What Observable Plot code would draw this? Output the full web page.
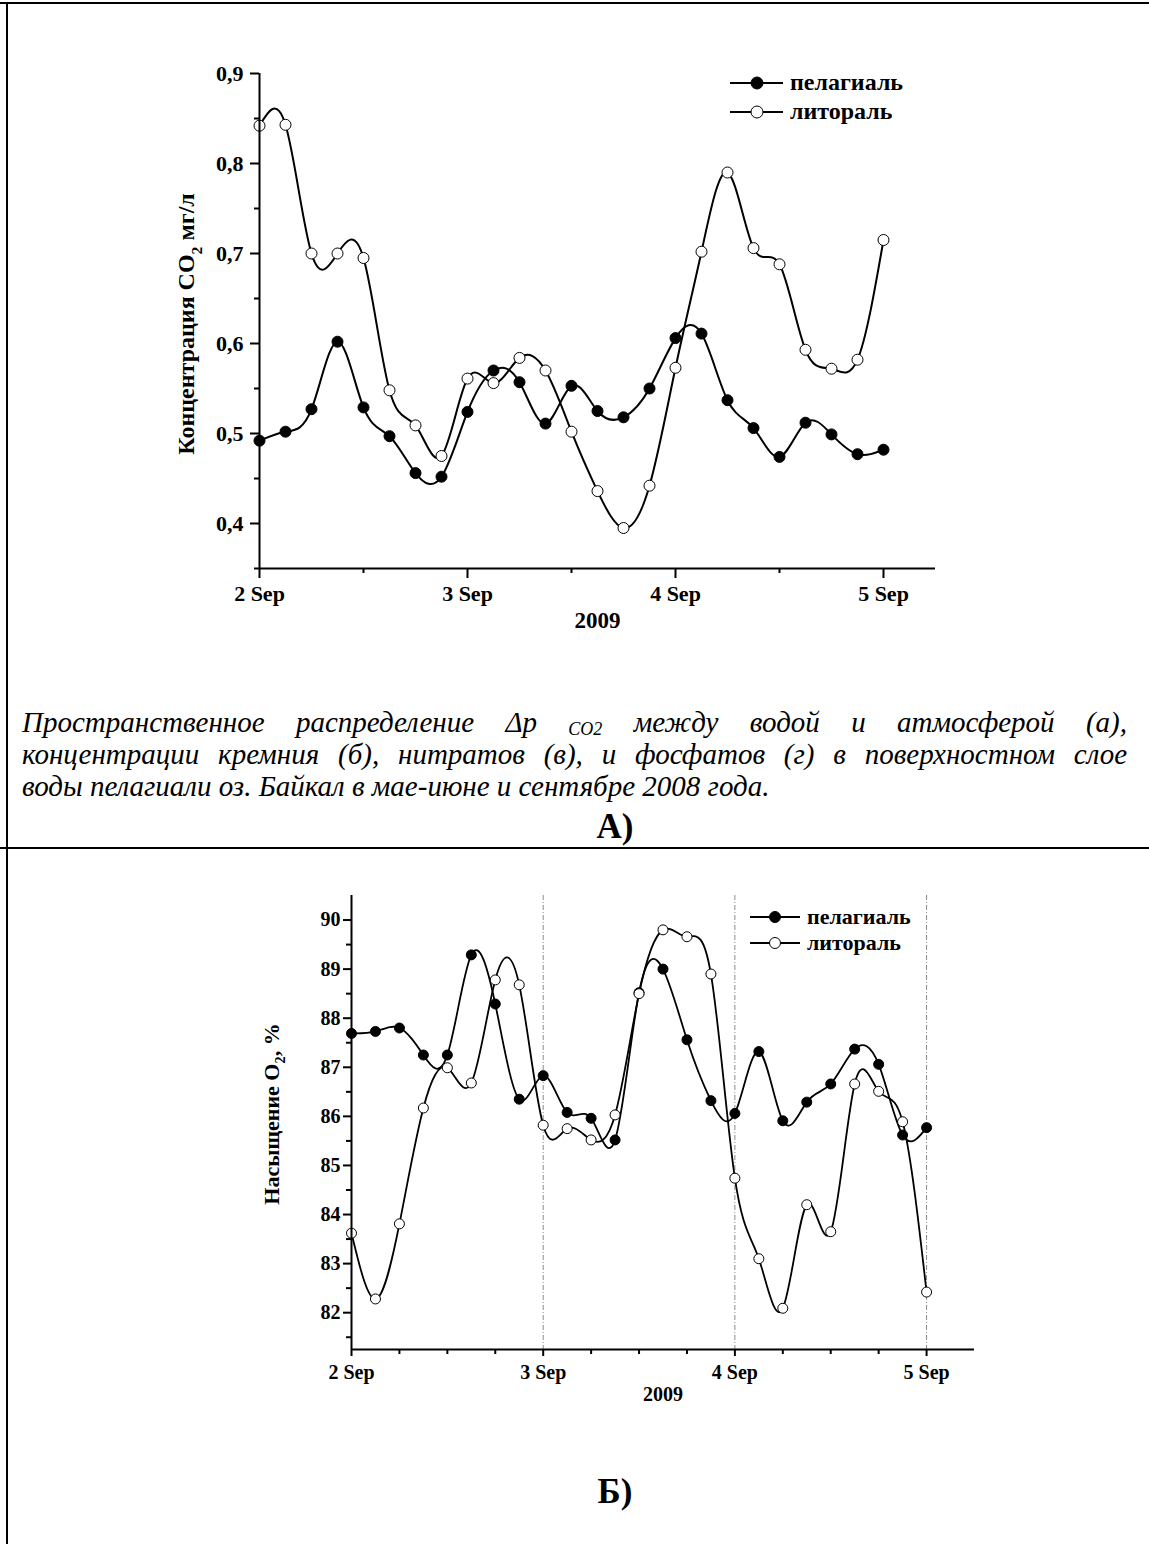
<!DOCTYPE html>
<html><head><meta charset="utf-8">
<script src="https://cdn.jsdelivr.net/npm/d3@7"></script>
<script src="https://cdn.jsdelivr.net/npm/@observablehq/plot@0.6"></script>
<style>
html,body{margin:0;padding:0;background:#fff;}
body{width:1149px;height:1544px;position:relative;overflow:hidden;font-family:'Liberation Serif','Times New Roman',serif;color:#000;}
.abs{position:absolute;}
#lineTop{left:0;top:2px;width:1149px;height:0;border-top:2px solid #000;}
#lineLeft{left:6px;top:2px;width:0;height:1542px;border-left:2px solid #000;}
#divider{left:0;top:847px;width:1149px;height:0;border-top:2px solid #000;}
.cap{position:absolute;left:22px;width:1105px;font-style:italic;font-size:29px;line-height:32px;white-space:nowrap;}
.just{text-align:justify;text-align-last:justify;white-space:normal;}
.cap sub{font-size:18px;vertical-align:-3px;line-height:0;}
.panel{position:absolute;width:200px;text-align:center;font-weight:bold;font-size:35px;line-height:35px;}
#chartA,#chartB{position:absolute;left:0;}
#chartA{top:0;} #chartB{top:850px;}
</style>
</head><body>
<div id="chartA"></div>
<div id="chartB"></div>
<div class="cap just" style="top:706px">Пространственное распределение <i>Δp</i> <sub>CO2</sub> между водой и атмосферой (а),</div>
<div class="cap just" style="top:738px">концентрации кремния (б), нитратов (в), и фосфатов (г) в поверхностном слое</div>
<div class="cap" style="top:770px">воды пелагиали оз. Байкал в мае-июне и сентябре 2008 года.</div>
<div class="panel" style="left:515px;top:809px">А)</div>
<div class="panel" style="left:515px;top:1474px">Б)</div>
<div id="lineTop" class="abs"></div>
<div id="lineLeft" class="abs"></div>
<div id="divider" class="abs"></div>
<script>
// ---- data ----
const timeLabels = [
  "2009-09-02T00:00:00Z","2009-09-02T03:00:00Z","2009-09-02T06:00:00Z","2009-09-02T09:00:00Z",
  "2009-09-02T12:00:00Z","2009-09-02T15:00:00Z","2009-09-02T18:00:00Z","2009-09-02T21:00:00Z",
  "2009-09-03T00:00:00Z","2009-09-03T03:00:00Z","2009-09-03T06:00:00Z","2009-09-03T09:00:00Z",
  "2009-09-03T12:00:00Z","2009-09-03T15:00:00Z","2009-09-03T18:00:00Z","2009-09-03T21:00:00Z",
  "2009-09-04T00:00:00Z","2009-09-04T03:00:00Z","2009-09-04T06:00:00Z","2009-09-04T09:00:00Z",
  "2009-09-04T12:00:00Z","2009-09-04T15:00:00Z","2009-09-04T18:00:00Z","2009-09-04T21:00:00Z",
  "2009-09-05T00:00:00Z"
];
const seriesNames = ["пелагиаль", "литораль"];
const co2Pelagial = [0.492,0.502,0.527,0.602,0.529,0.497,0.456,0.452,0.524,0.570,0.557,0.511,0.553,0.525,0.518,0.550,0.606,0.611,0.537,0.506,0.474,0.512,0.499,0.477,0.482];
const co2Litoral  = [0.842,0.843,0.700,0.700,0.695,0.548,0.509,0.475,0.561,0.556,0.584,0.570,0.502,0.436,0.395,0.442,0.573,0.702,0.790,0.706,0.688,0.593,0.572,0.582,0.715];
const o2Pelagial  = [87.69,87.73,87.80,87.25,87.25,89.29,88.29,86.35,86.83,86.08,85.96,85.52,88.52,89.00,87.56,86.32,86.06,87.32,85.91,86.29,86.66,87.37,87.06,85.62,85.77];
const o2Litoral   = [83.62,82.28,83.81,86.17,86.99,86.68,88.78,88.68,85.82,85.75,85.52,86.03,88.50,89.80,89.66,88.90,84.74,83.10,82.09,84.20,83.65,86.66,86.51,85.89,82.42];

const xDomainLabels = ["2009-09-02T00:00:00Z", "2009-09-05T06:00:00Z"];
const majorDayLabels = ["2009-09-02T00:00:00Z","2009-09-03T00:00:00Z","2009-09-04T00:00:00Z","2009-09-05T00:00:00Z"];
const minorTopLabels = ["2009-09-02T12:00:00Z","2009-09-03T12:00:00Z","2009-09-04T12:00:00Z"];
const minorBottomLabels = ["2009-09-02T06:00:00Z","2009-09-02T12:00:00Z","2009-09-02T18:00:00Z",
  "2009-09-03T06:00:00Z","2009-09-03T12:00:00Z","2009-09-03T18:00:00Z",
  "2009-09-04T06:00:00Z","2009-09-04T12:00:00Z","2009-09-04T18:00:00Z"];
const gridLabels = ["2009-09-03T00:00:00Z","2009-09-04T00:00:00Z","2009-09-05T00:00:00Z"];
const co2Domain = [0.35, 0.9];
const co2Major = [0.4,0.5,0.6,0.7,0.8,0.9];
const co2Minor = [0.35,0.45,0.55,0.65,0.75,0.85];
const o2Domain = [81.25, 90.5];
const o2Major = [82,83,84,85,86,87,88,89,90];
const o2Minor = [81.5,82.5,83.5,84.5,85.5,86.5,87.5,88.5,89.5];
const yearLabel = "2009";

// ---- build ----
const P = s => new Date(s);
const times = timeLabels.map(P);
const xDomain = xDomainLabels.map(P);
const majorDays = majorDayLabels.map(P);
const dayFmt = d => `${d.getUTCDate()} Sep`;
const commaFmt = d => d.toFixed(1).replace(".", ",");
const font = "'Liberation Serif','Times New Roman',serif";

function rows(vals, name){ return vals.map((v,i)=>({t: times[i], v, s: name})); }

function makeChart(o){
  const pel = rows(o.pel, seriesNames[0]);
  const lit = rows(o.lit, seriesNames[1]);
  return Plot.plot({
    width: 1149, height: o.height,
    marginLeft: o.ml, marginRight: o.mr, marginTop: o.mt, marginBottom: o.mb,
    style: {background: "transparent", fontFamily: font, fontWeight: "bold", fontSize: o.fs + "px", color: "#000", overflow: "visible"},
    x: {type: "utc", domain: xDomain, axis: null},
    y: {domain: o.yDomain, axis: null},
    marks: [
      o.grid ? Plot.ruleX(o.grid.map(P), {stroke: "#8a8a8a", strokeWidth: 1, strokeDasharray: "5,2,1,2"}) : null,
      Plot.line(pel, {x: "t", y: "v", curve: "natural", stroke: "#000", strokeWidth: o.lw}),
      Plot.line(lit, {x: "t", y: "v", curve: "natural", stroke: "#000", strokeWidth: o.lw}),
      Plot.dot(pel, {x: "t", y: "v", r: o.r, fill: "#000", stroke: "#000", strokeWidth: 1}),
      Plot.dot(lit, {x: "t", y: "v", r: o.r, fill: "#fff", stroke: "#000", strokeWidth: 1}),
      Plot.axisY(o.yMinor, {tickSize: o.minorTick, tickFormat: () => "", strokeWidth: 2, label: null}),
      Plot.axisY(o.yMajor, {tickSize: o.majorTickY, tickPadding: o.padY, tickFormat: o.yFmt, strokeWidth: 2, fontSize: o.fs, label: null}),
      Plot.axisX(o.xMinor.map(P), {tickSize: o.minorTick, tickFormat: () => "", strokeWidth: 2, label: null}),
      Plot.axisX(majorDays, {tickSize: o.majorTickX, tickPadding: o.padX, tickFormat: dayFmt, strokeWidth: 2, fontSize: o.fs, label: null}),
      Plot.ruleX([xDomain[0]], {strokeWidth: 2}),
      Plot.ruleY([o.yDomain[0]], {strokeWidth: 2}),
      Plot.text([yearLabel], {frameAnchor: "bottom", dy: o.yearDy, fontSize: o.yearFs, fontWeight: "bold"})
    ]
  });
}

const chartA = makeChart({
  pel: co2Pelagial, lit: co2Litoral, height: 650, ml: 259, mr: 214, mt: 73, mb: 82,
  yDomain: co2Domain, yMajor: co2Major, yMinor: co2Minor, yFmt: commaFmt,
  xMinor: minorTopLabels, fs: 22, yearFs: 23, lw: 2, r: 5.5, minorTick: 5, majorTickY: 9, majorTickX: 10,
  padY: 7, padX: 7, yearDy: 59
});
const chartB = makeChart({
  pel: o2Pelagial, lit: o2Litoral, height: 600, ml: 351, mr: 175, mt: 45, mb: 101,
  yDomain: o2Domain, yMajor: o2Major, yMinor: o2Minor, yFmt: d => String(d),
  xMinor: minorBottomLabels, fs: 20, yearFs: 20, lw: 1.8, r: 5, minorTick: 5, majorTickY: 8, majorTickX: 7,
  padY: 3, padX: 8, yearDy: 51, grid: gridLabels
});
document.getElementById("chartA").appendChild(chartA);
document.getElementById("chartB").appendChild(chartB);

function addLegend(svg, x0, x1, xm, ys, tx, fs, r){
  const g = d3.select(svg).append("g").attr("font-family", font).attr("font-weight", "bold")
    .attr("font-size", fs).attr("text-anchor", "start");
  seriesNames.forEach((name, i) => {
    const y = ys[i];
    g.append("line").attr("x1", x0).attr("x2", x1).attr("y1", y).attr("y2", y).attr("stroke", "#000").attr("stroke-width", 2);
    g.append("circle").attr("cx", xm).attr("cy", y).attr("r", r).attr("fill", i === 0 ? "#000" : "#fff").attr("stroke", "#000");
    g.append("text").attr("x", tx).attr("y", y).attr("dy", "0.3em").text(name);
  });
}
function addYLabel(svg, x, y, fs, parts){
  const t = d3.select(svg).append("text").attr("transform", `translate(${x},${y}) rotate(-90)`)
    .attr("text-anchor", "middle").attr("dy", "0.35em")
    .attr("font-family", font).attr("font-weight", "bold").attr("font-size", fs);
  parts.forEach(p => {
    const s = t.append("tspan").text(p.text);
    if (p.sub) s.attr("font-size", fs * 0.65).attr("dy", fs * 0.3);
    if (p.after) s.attr("dy", -fs * 0.3);
  });
}
addLegend(chartA, 730, 783, 757, [83, 112], 790, 24, 6);
addYLabel(chartA, 186, 324, 24, [{text: "Концентрация CO"}, {text: "2", sub: true}, {text: " мг/л", after: true}]);
addLegend(chartB, 750, 800, 775, [67, 93], 807, 22, 5.5);
addYLabel(chartB, 271, 264, 22, [{text: "Насыщение O"}, {text: "2", sub: true}, {text: ", %", after: true}]);
</script>
</body></html>
